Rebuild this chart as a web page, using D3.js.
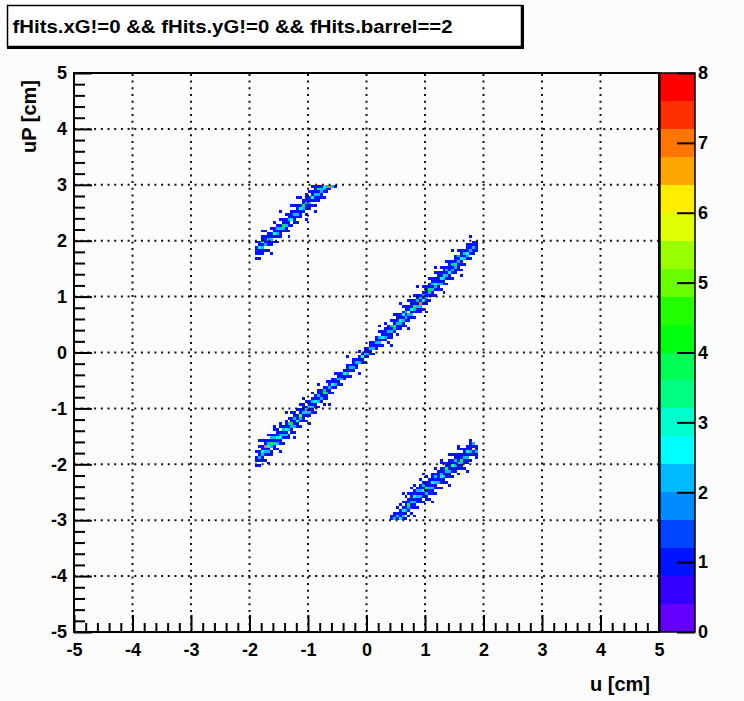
<!DOCTYPE html>
<html><head><meta charset="utf-8">
<script src="https://cdn.jsdelivr.net/npm/d3@7"></script>
<style>
html,body{margin:0;padding:0;background:#fcfcfc;}
svg{display:block;font-family:"Liberation Sans",Arial,Helvetica,sans-serif;font-weight:bold;}
</style></head><body>
<svg id="chart" width="744" height="701"></svg>
<script>
// ---------------- data ----------------
const titleText = "fHits.xG!=0 && fHits.yG!=0 && fHits.barrel==2";
const xTitle = "u [cm]";
const yTitle = "uP [cm]";
const axisRange = [-5, 5];
const binWidth = 0.05;               // 200 x 200 bins
const majorTicks = [-5, -4, -3, -2, -1, 0, 1, 2, 3, 4, 5];
const gridValues = [-4, -3, -2, -1, 0, 1, 2, 3, 4];
const zRange = [0, 8];
const zTicks = [0, 1, 2, 3, 4, 5, 6, 7, 8];
const paletteColors = [
  "#6300ff", "#3300ff", "#0014ff", "#0044ff", "#008bff",
  "#00bbff", "#00fffc", "#00ffcc", "#00ff85", "#00ff55",
  "#00ff0e", "#22ff00", "#69ff00", "#99ff00", "#e0ff00",
  "#ffee00", "#ffa700", "#ff7700", "#ff3000", "#ff0000"
];
// rows: [u-bin index, first uP-bin index, counts in consecutive uP bins...]
const mainBand = [
[62,58,0,1,0,1,1,0,1,0,0],[63,59,1,0,1,2,1,1,0,1,0],[64,60,0,1,1,2,3,1,1,0,1],
[65,61,1,0,1,2,1,7,1,1,0],[66,62,0,1,2,1,3,2,1,0,1],[67,63,1,1,0,2,4,1,2,1,0],
[68,64,0,1,1,2,1,2,1,0,1],[69,65,1,0,2,1,3,1,1,1,0],[70,66,0,1,1,3,2,1,0,1,1],
[71,67,1,0,1,2,1,2,1,0,0],[72,68,0,1,2,1,3,1,1,1,0],[73,69,1,1,0,2,1,2,0,1,0],
[74,70,0,1,1,2,4,1,1,0,1],[75,71,1,0,2,1,1,2,1,1,0],[76,72,0,1,1,3,1,1,0,1,0],
[77,73,1,0,1,2,5,1,1,0,1],[78,74,0,1,1,1,2,1,1,1,0],[79,75,1,0,1,2,2,1,0,1,0],
[80,76,0,1,2,1,3,1,1,0,0],[81,77,0,1,1,2,1,2,1,0,1],[82,78,1,0,1,1,3,1,1,0,0],
[83,79,0,1,0,2,1,2,1,1,0],[84,80,0,0,1,2,1,1,1,0,0],[85,81,1,0,1,1,4,2,1,0,0],
[86,82,0,1,1,2,1,1,0,1,0],[87,83,0,0,1,1,2,1,1,0,0],[88,84,0,1,0,1,3,1,1,0,0],
[89,85,0,0,1,2,1,1,0,1,0],[90,86,0,0,1,1,2,1,1,0,0],[91,87,0,1,0,2,1,1,0,0,0],
[92,88,0,0,1,1,3,1,0,0,0],[93,89,0,0,1,2,1,1,1,0,0],[94,90,0,1,0,1,2,1,0,0,0],
[95,91,0,0,1,2,1,1,1,0,0],[96,92,0,0,1,1,2,1,0,0,0],[97,93,0,0,0,2,1,1,0,1,0],
[98,94,0,0,1,1,3,1,0,0,0],[99,95,0,1,0,1,2,1,1,0,0],[100,96,0,0,1,2,1,1,0,0,0],
[101,97,0,0,1,1,2,1,1,0,0],[102,98,0,1,0,2,1,1,0,0,0],[103,99,0,0,1,1,2,1,1,0,0],
[104,100,0,0,1,2,1,2,0,1,0],[105,101,0,1,0,1,3,1,1,0,0],[106,102,0,0,1,2,1,1,1,0,1],
[107,103,1,0,1,1,2,1,1,0,0],[108,104,0,1,1,2,1,2,0,1,0],[109,105,0,0,1,2,4,1,1,0,1],
[110,106,1,0,1,1,2,1,1,1,0],[111,107,0,1,1,2,3,1,1,0,0],[112,108,0,1,1,2,1,3,1,0,1],
[113,109,1,0,1,2,1,2,1,1,0],[114,110,0,1,1,2,6,1,1,0,1],[115,111,0,1,2,1,3,1,1,1,0],
[116,112,1,0,1,2,4,1,1,0,1],[117,113,0,1,1,2,1,2,1,1,0],[118,113,0,1,1,2,7,1,2,1,0],
[119,115,1,0,1,3,1,2,1,0,1],[120,116,0,1,1,2,1,1,1,1,0],[121,118,1,0,1,2,4,1,1,0,1],
[122,119,0,1,1,2,1,2,1,1,0],[123,120,1,0,1,2,3,1,1,0,1],[124,121,0,1,1,2,1,1,1,1,0],
[125,122,1,0,2,1,3,1,1,0,1],[126,123,0,1,1,2,4,1,1,1,0],[127,124,1,0,1,2,1,2,1,0,1],
[128,125,0,1,1,3,1,1,1,1,0],[129,126,1,0,1,2,1,2,1,0,0],[130,127,0,1,1,2,4,1,1,1,0],
[131,128,0,1,1,1,2,1,2,0,1],[132,129,1,0,1,1,3,1,1,1,0],[133,130,0,1,0,2,1,2,1,0,0],
[134,131,0,0,1,2,3,1,1,1,0],[135,132,0,1,0,1,2,1,1,0,0],[136,133,0,0,1,1,2,1,1,0,0],
[137,135,0,1,1,1,1]
];
const upperBand = [
[62,132,0,1,0,1,1,1,0,1,0],[63,133,1,0,1,1,3,1,1,0,0],[64,134,0,1,1,2,1,3,1,1,0],
[65,135,0,1,0,2,1,1,1,0,1],[66,136,1,0,1,1,2,1,1,0,0],[67,137,0,1,1,2,1,1,0,1,0],
[68,138,0,1,0,1,3,1,1,0,1],[69,139,1,0,1,2,1,2,1,0,0],[70,140,0,1,1,1,2,1,0,1,0],
[71,141,0,0,1,2,4,1,1,0,0],[72,142,0,1,1,2,1,1,0,1,0],[73,143,1,0,1,1,2,1,1,0,0],
[74,144,0,1,0,3,1,1,1,0,1],[75,145,0,1,1,1,2,1,0,1,0],[76,146,1,0,1,2,1,1,1,0,0],
[77,147,0,1,1,1,3,1,0,0,1],[78,148,0,0,1,2,4,1,1,0,0],[79,149,1,0,1,1,2,1,1,1,0],
[80,150,0,1,1,2,1,1,0,1,0],[81,151,0,1,0,1,3,1,1,0,1],[82,152,1,0,1,1,2,1,1,1],
[83,153,0,1,1,2,1,4,1],[84,154,0,1,1,2,2,1],[85,155,1,0,1,2,3],
[86,157,1,1,2],[87,158,1,7],[88,159,2],[89,159,1]
];
const lowerBand = [
[108,40,1,1],[109,40,2,1,1],[110,40,1,2,1,0,1],[111,40,3,1,1,1,0,1],
[112,40,1,2,1,3,1,0,1],[113,40,1,0,1,2,1,1,1,0,1],[114,41,1,0,1,2,4,1,1,0,1],
[115,42,1,0,1,1,2,1,1,1,0,1],[116,43,0,1,1,2,1,3,1,1,0,1],[117,44,1,0,1,1,2,1,2,1,0,0],
[118,45,0,1,1,2,1,2,1,1,0,1],[119,46,1,0,1,1,3,1,2,1,0,0],[120,46,0,1,1,2,1,4,1,1,0,1],
[121,47,1,0,1,1,2,1,1,1,0,0],[122,48,0,1,1,2,1,3,1,1,1,0],[123,49,1,0,1,1,2,1,2,1,0,1],
[124,50,0,1,0,2,1,1,1,1,0,0],[125,51,1,0,1,1,3,2,1,1,0,1],[126,52,0,1,1,2,1,1,1,0,1,0],
[127,53,1,0,1,1,2,4,1,1,0,0],[128,54,0,1,1,2,1,1,1,1,0,1],[129,55,1,0,1,1,3,1,1,0,1,0],
[130,56,0,1,1,2,1,2,1,1,0,0],[131,56,1,0,1,1,2,1,1,1,0,1],[132,57,0,1,1,2,4,1,1,0,1,0],
[133,58,1,0,1,1,2,1,1,1,0,0],[134,59,0,1,1,2,1,3,1,1,0,0],[135,60,0,1,0,1,2,1,1,1,1,0],
[136,61,0,0,1,1,6,1,2],[137,61,0,1,1,2,1,1]
];
// isolated outlying cells: [u-bin index, uP-bin index, count]
const scatterCells = [
[63,68,1],[66,60,1],[68,73,1],[70,64,1],[72,78,1],[75,69,1],[78,83,1],[80,74,1],
[83,88,1],[87,81,1],[93,98,1],[97,92,1],[104,109,1],[108,102,1],[111,117,1],[114,108,1],
[117,123,1],[120,114,1],[123,130,1],[126,121,1],[129,136,1],[132,127,1],[135,141,1],
[64,143,1],[67,135,1],[70,150,1],[73,141,1],[76,155,1],[79,147,1],[82,150,1],
[112,49,1],[116,41,1],[119,56,1],[122,46,1],[125,61,1],[128,52,1],[131,66,1],[134,57,1]
];

// ---------------- layout ----------------
const L = 74, R = 659, T = 73, B = 632;
const svg = d3.select("#chart");
svg.append("rect").attr("width", 744).attr("height", 701).attr("fill", "#fcfcfc");

const x = d3.scaleLinear().domain(axisRange).range([L, R]);
const y = d3.scaleLinear().domain(axisRange).range([B, T]);
const zY = d3.scaleLinear().domain(zRange).range([B, T]);
const levelScale = d3.scaleLinear().domain(zRange).range([0, paletteColors.length]);
const colorOf = n => paletteColors[Math.min(paletteColors.length - 1, Math.floor(0.01 + levelScale(n)))];
const fmt = d => String(d);

function expand(rows) {
  const out = [];
  rows.forEach(r => {
    const ix = r[0], iy0 = r[1];
    for (let k = 2; k < r.length; k++) {
      if (r[k] > 0) out.push({u: axisRange[0] + ix * binWidth, v: axisRange[0] + (iy0 + k - 2) * binWidth, n: r[k]});
    }
  });
  return out;
}
const cells = [].concat(expand(mainBand), expand(upperBand), expand(lowerBand), expand(scatterCells));

// cells
svg.append("g").attr("shape-rendering", "crispEdges")
  .selectAll("rect").data(cells).join("rect")
  .attr("x", d => x(d.u))
  .attr("y", d => y(d.v + binWidth))
  .attr("width", d => x(d.u + binWidth) - x(d.u))
  .attr("height", d => y(d.v) - y(d.v + binWidth))
  .attr("fill", d => colorOf(d.n));

// grid
const grid = svg.append("g").attr("stroke", "#111").attr("stroke-width", 2).attr("stroke-dasharray", "2,4.7");
grid.selectAll("line.gx").data(gridValues).join("line").attr("class", "gx")
  .attr("x1", d => x(d)).attr("x2", d => x(d)).attr("y1", B).attr("y2", T);
grid.selectAll("line.gy").data(gridValues).join("line").attr("class", "gy")
  .attr("y1", d => y(d)).attr("y2", d => y(d)).attr("x1", L).attr("x2", R);

// axes
const minorTicks = d3.range(axisRange[0], axisRange[1] + 1e-9, 0.2).filter(v => Math.abs(v - Math.round(v)) > 1e-6);
function styleAxis(g) {
  g.attr("font-size", null).attr("font-family", null);
  g.selectAll(".domain").remove();
  g.selectAll("line").attr("stroke", "#000").attr("stroke-width", 2);
  g.selectAll("text").attr("fill", "#000").style("font-size", "18px").style("font-weight", "bold");
}
svg.append("g").attr("transform", `translate(0,${B})`)
  .call(d3.axisBottom(x).tickValues(minorTicks).tickSize(-9).tickFormat("")).call(styleAxis);
svg.append("g").attr("transform", `translate(0,${B})`)
  .call(d3.axisBottom(x).tickValues(majorTicks).tickSize(-17).tickPadding(11).tickFormat(fmt)).call(styleAxis);
svg.append("g").attr("transform", `translate(${L},0)`)
  .call(d3.axisLeft(y).tickValues(minorTicks).tickSize(-11).tickFormat("")).call(styleAxis);
svg.append("g").attr("transform", `translate(${L},0)`)
  .call(d3.axisLeft(y).tickValues(majorTicks).tickSize(-18).tickPadding(7).tickFormat(fmt)).call(styleAxis);

// frame
svg.append("rect").attr("x", L).attr("y", T).attr("width", R - L).attr("height", B - T)
  .attr("fill", "none").attr("stroke", "#000").attr("stroke-width", 2);

// colour bar
const CB0 = 660, CB1 = 695;
const bandEdges = d3.range(0, paletteColors.length).map(i => [zRange[0] + i * (zRange[1] - zRange[0]) / paletteColors.length, zRange[0] + (i + 1) * (zRange[1] - zRange[0]) / paletteColors.length]);
svg.append("g").attr("shape-rendering", "crispEdges").selectAll("rect").data(bandEdges).join("rect")
  .attr("x", CB0).attr("width", CB1 - CB0)
  .attr("y", d => zY(d[1])).attr("height", d => zY(d[0]) - zY(d[1]))
  .attr("fill", (d, i) => paletteColors[i]);
svg.append("rect").attr("x", CB0).attr("y", T).attr("width", CB1 - CB0).attr("height", B - T)
  .attr("fill", "none").attr("stroke", "#000").attr("stroke-width", 1.5);
svg.append("g").attr("transform", `translate(${CB1},0)`)
  .call(d3.axisRight(zY).tickValues(zTicks).tickSize(-18).tickPadding(3).tickFormat(fmt)).call(styleAxis);

// axis titles
svg.append("text").attr("x", 650).attr("y", 691).attr("text-anchor", "end")
  .style("font-size", "20px").text(xTitle);
svg.append("text").attr("transform", "translate(36,80) rotate(-90)").attr("text-anchor", "end")
  .style("font-size", "20px").text(yTitle);

// title box
svg.append("rect").attr("x", 7.5).attr("y", 5.5).attr("width", 514).attr("height", 41)
  .attr("fill", "#fff").attr("stroke", "#000").attr("stroke-width", 1.5);
svg.append("line").attr("x1", 522.5).attr("x2", 522.5).attr("y1", 5).attr("y2", 49).attr("stroke", "#000").attr("stroke-width", 3);
svg.append("line").attr("x1", 7).attr("x2", 524).attr("y1", 47.5).attr("y2", 47.5).attr("stroke", "#000").attr("stroke-width", 3);
svg.append("text").attr("x", 12.5).attr("y", 33).style("font-size", "19px")
  .attr("textLength", 440).attr("lengthAdjust", "spacingAndGlyphs").text(titleText);
</script>
</body></html>
